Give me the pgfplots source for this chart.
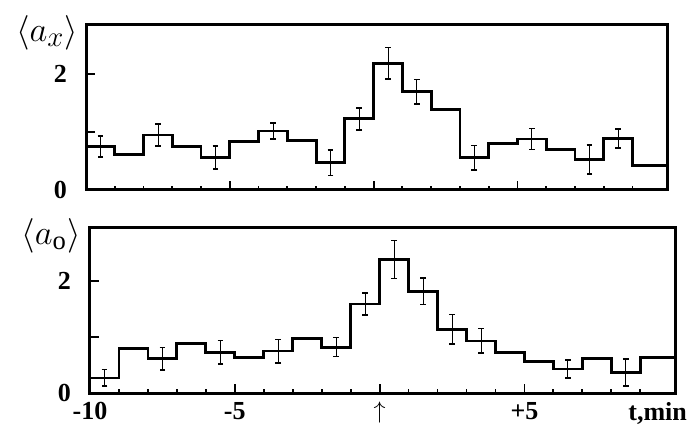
\documentclass[border=0pt]{standalone}
\usepackage{fontspec}
\setmainfont{Liberation Serif}
\usepackage{pgfplots}
\pgfplotsset{compat=1.18}

\pgfplotsset{
  panel/.style={
    scale only axis, height=82.5pt,
    xmin=-10, xmax=10.2, ymin=0,
    axis line style={line width=1.5pt},
    tick align=inside, xtick pos=bottom, ytick pos=left,
    xtick={-10,-5,0,5},
    minor xtick={-9,-8,-7,-6,-4,-3,-2,-1,1,2,3,4,6,7,8,9},
    major tick length=4.5pt, minor tick length=2pt,
    tick style={black, line width=0.9pt},
    ytick={0,1,2}, yticklabels={0,,2},
    yticklabel style={font=\fontsize{13}{15}\selectfont\bfseries, xshift=-6pt},
    xticklabel style={font=\fontsize{13}{15}\selectfont\bfseries, yshift=-1pt},
    clip=false,
  },
  hist/.style={const plot, black, line width=1.4pt, mark=none},
  errs/.style={black, line width=0.8pt, only marks, mark=-, mark size=0pt, forget plot,
    error bars/.cd, y dir=both, y explicit, error mark=-,
    error mark options={black, rotate=90, mark size=1.4pt, line width=0.8pt}},
}

\begin{document}
\begin{tikzpicture}
\path (-43pt,95pt) rectangle (306.5pt,-120pt);

% upper panel
\begin{axis}[panel, width=290.5pt, ymax=2.85, xticklabels={}, at={(0pt,0pt)}]
\addplot[hist] coordinates {
  (-10,0.75) (-9,0.61) (-8,0.95) (-7,0.75) (-6,0.56) (-5,0.84) (-4,1.02)
  (-3,0.86) (-2,0.47) (-1,1.23) (0,2.19) (1,1.70) (2,1.39) (3,0.56)
  (4,0.81) (5,0.88) (6,0.70) (7,0.53) (8,0.89) (9,0.42) (10.2,0.42)};
\addplot[errs] table[x=x, y=y, y error=e] {
x y e
-9.5 0.75 0.18
-7.5 0.95 0.19
-5.5 0.56 0.20
-3.5 1.02 0.14
-1.5 0.47 0.22
-0.5 1.23 0.19
0.5 2.19 0.27
1.5 1.70 0.21
3.5 0.56 0.21
5.5 0.88 0.18
7.5 0.53 0.25
8.5 0.89 0.16
};
\node[xshift=-19.5pt, yshift=-4pt] at (rel axis cs:0,1)
  {\fontsize{19}{21}\selectfont$\langle a_{x}\rangle$};
\end{axis}

% lower panel
\begin{axis}[panel, width=292.5pt, ymax=2.95, at={(2pt,-101.5pt)},
  xticklabels={-10,-5,$\uparrow$,+5}]
\addplot[hist] coordinates {
  (-10,0.27) (-9,0.80) (-8,0.61) (-7,0.89) (-6,0.73) (-5,0.64) (-4,0.75)
  (-3,0.98) (-2,0.82) (-1,1.59) (0,2.39) (1,1.82) (2,1.14) (3,0.93)
  (4,0.73) (5,0.57) (6,0.43) (7,0.61) (8,0.37) (9,0.64) (10.2,0.64)};
\addplot[errs] table[x=x, y=y, y error=e] {
x y e
-9.5 0.27 0.15
-7.5 0.61 0.20
-5.5 0.73 0.21
-3.5 0.75 0.21
-1.5 0.82 0.17
-0.5 1.59 0.20
0.5 2.39 0.34
1.5 1.82 0.24
2.5 1.14 0.26
3.5 0.93 0.22
6.5 0.43 0.16
8.5 0.37 0.24
};
\node[xshift=-19.5pt, yshift=-4pt] at (rel axis cs:0,1)
  {\fontsize{19}{21}\selectfont$\langle a_{\mathrm{o}}\rangle$};
\node[anchor=north, yshift=-1pt, font=\fontsize{13}{15}\selectfont\bfseries]
  at (axis cs:9.6,0) {t,min};
\end{axis}
\end{tikzpicture}
\end{document}
